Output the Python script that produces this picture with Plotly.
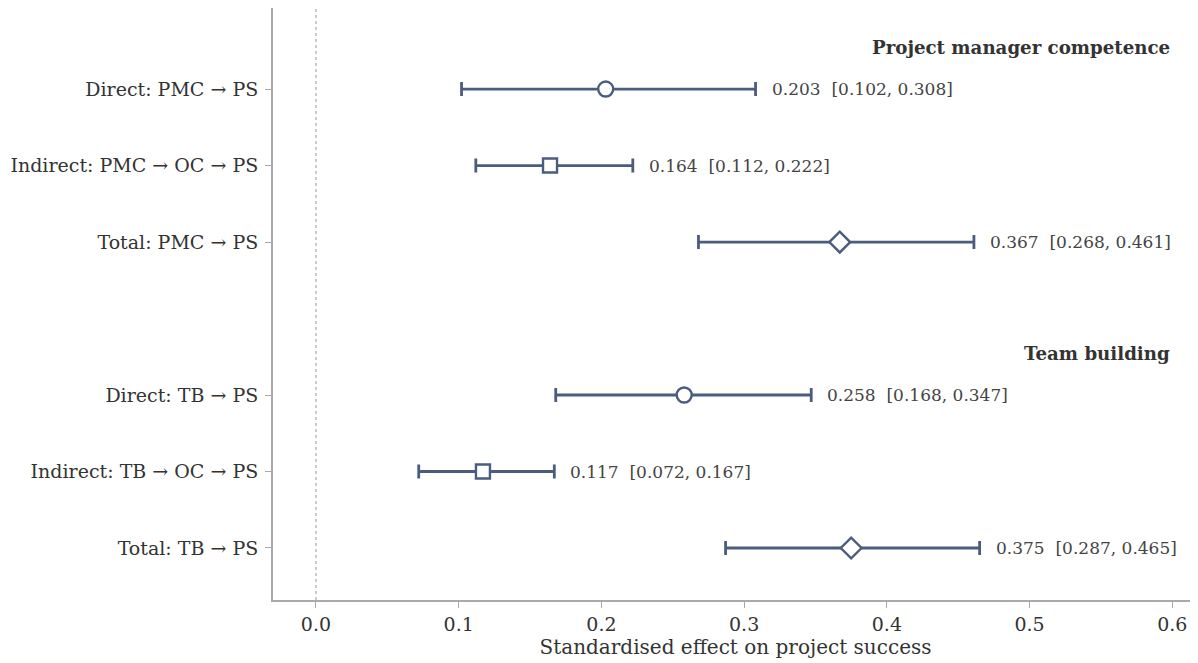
import plotly.graph_objects as go

labels = ["Direct: PMC → PS", "Indirect: PMC → OC → PS", "Total: PMC → PS",
          "Direct: TB → PS", "Indirect: TB → OC → PS", "Total: TB → PS"]
rows = [0, 1, 2, 4, 5, 6]
estimates = [0.203, 0.164, 0.367, 0.258, 0.117, 0.375]
lower = [0.102, 0.112, 0.268, 0.168, 0.072, 0.287]
upper = [0.308, 0.222, 0.461, 0.347, 0.167, 0.465]
symbols = ["circle", "square", "diamond", "circle", "square", "diamond"]
headers = ["Project manager competence", "Team building"]
header_rows = [-0.54, 3.46]
xticks = [0.0, 0.1, 0.2, 0.3, 0.4, 0.5, 0.6]

COLOR = "#4a5d7e"
SERIF = "DejaVu Serif"

fig = go.Figure()
sizes = {"circle": 15, "square": 14, "diamond": 16}
for r, e, lo, hi, s in zip(rows, estimates, lower, upper, symbols):
    fig.add_trace(go.Scatter(
        x=[e], y=[r], mode="markers",
        marker=dict(symbol=s, size=sizes[s], color="white",
                    line=dict(color=COLOR, width=2.4)),
        error_x=dict(type="data", symmetric=False, array=[hi - e], arrayminus=[e - lo],
                     color=COLOR, thickness=2.8, width=7),
        showlegend=False, hoverinfo="skip"))

for r, e, lo, hi in zip(rows, estimates, lower, upper):
    fig.add_annotation(x=hi, y=r, xref="x", yref="y",
                       text=f"{e:.3f}&nbsp;&nbsp;[{lo:.3f}, {hi:.3f}]",
                       showarrow=False, xanchor="left", yanchor="middle", xshift=14,
                       font=dict(family=SERIF, size=17, color="#444444"))

for h, hr in zip(headers, header_rows):
    fig.add_annotation(x=0.6, y=hr, xref="x", yref="y", text=f"<b>{h}</b>",
                       showarrow=False, xanchor="right", yanchor="middle",
                       font=dict(family=SERIF, size=18.2, color="#333333"))

fig.add_shape(type="line", x0=0, x1=0, y0=0, y1=1, xref="x", yref="paper",
              line=dict(color="#999999", width=1, dash="dot"), layer="below")

fig.update_layout(
    width=1190, height=655,
    margin=dict(l=265, r=0, t=0, b=63, autoexpand=False),
    plot_bgcolor="white", paper_bgcolor="white",
    font=dict(family=SERIF, size=19, color="#333333"),
    xaxis=dict(range=[-0.0301, 0.618], tickvals=xticks,
               ticktext=[f"{v:.1f}" for v in xticks],
               showgrid=False, zeroline=False, showline=True, linecolor="#aaaaaa",
               linewidth=2, ticks="outside", ticklen=6, tickcolor="#aaaaaa",
               ticklabeloverflow="allow",
               tickfont=dict(family=SERIF, size=19, color="#333333"),
               title=dict(text="Standardised effect on project success",
                          font=dict(family=SERIF, size=20, color="#333333"), standoff=6)),
    yaxis=dict(range=[6.68, -1.06], tickvals=rows, ticktext=labels,
               showgrid=False, zeroline=False, showline=True, linecolor="#aaaaaa",
               linewidth=2, ticks="outside", ticklen=6, tickcolor="#aaaaaa",
               ticklabelstandoff=3,
               tickfont=dict(family=SERIF, size=19, color="#333333")),
)

fig.write_html("out.html")
